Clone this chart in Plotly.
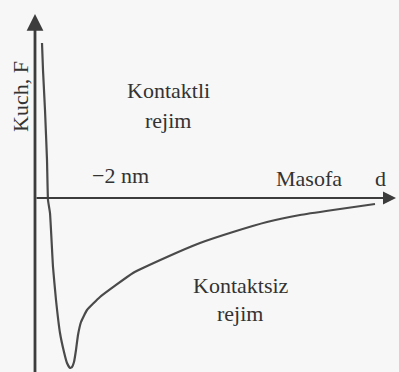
import plotly.graph_objects as go

# Force-distance curve (arbitrary units): distance d, force F
distance = [0.7, 0.8, 1.0, 1.2, 1.3, 1.5, 1.8, 2.1, 2.5, 2.9, 3.2, 3.5, 3.7, 3.9, 4.1, 4.3, 4.6, 5.2,
            6.5, 9.8, 13.2, 16.5, 19.8, 23.2, 26.5, 29.8, 34.0]
force = [15.7, 13.0, 9.0, 4.0, 0.0, -1.3, -6.7, -10.0, -13.3, -15.2, -16.3, -16.8, -16.7, -16.2,
         -15.0, -13.5, -12.2, -11.0, -9.7, -7.3, -5.7, -4.3, -3.2, -2.2, -1.5, -1.0, -0.4]

labels = ["Kuch, F", "Kontaktli", "rejim", "\u22122 nm", "Masofa", "d", "Kontaktsiz", "rejim"]
label_d = [-1.5, 13.3, 13.3, 8.5, 27.4, 34.5, 20.6, 20.5]
label_f = [10.3, 11.0, 8.0, 2.5, 2.2, 2.2, -8.5, -11.3]
label_angle = [-90, 0, 0, 0, 0, 0, 0, 0]

ink = "#3c3c3c"
font = dict(family="Times New Roman", size=22, color="#333333")

fig = go.Figure()
fig.add_trace(go.Scatter(x=distance, y=force, mode="lines",
                         line=dict(color="#4a4a4a", width=2.2, shape="spline", smoothing=0.35),
                         hoverinfo="skip", showlegend=False))

# axes as arrows
fig.add_annotation(x=0, y=18.6, ax=0, ay=-17.5, xref="x", yref="y", axref="x", ayref="y",
                   showarrow=True, arrowhead=2, arrowsize=1.2, arrowwidth=2.8, arrowcolor=ink, text="")
fig.add_annotation(x=36.1, y=0.2, ax=0, ay=0.2, xref="x", yref="y", axref="x", ayref="y",
                   showarrow=True, arrowhead=2, arrowsize=1.3, arrowwidth=2.0, arrowcolor=ink, text="")

for t, xd, yf, ang in zip(labels, label_d, label_f, label_angle):
    fig.add_annotation(x=xd, y=yf, text=t, textangle=ang, showarrow=False, font=font)

fig.update_layout(
    width=399, height=372,
    margin=dict(l=0, r=0, t=0, b=0),
    paper_bgcolor="#f7f7f7", plot_bgcolor="#f7f7f7",
    xaxis=dict(range=[-3.5, 36.4], visible=False, fixedrange=True),
    yaxis=dict(range=[-17.2, 20.0], visible=False, fixedrange=True),
)

fig.write_html("out.html", config={"displayModeBar": False},
               post_script="document.body.style.margin='0';document.body.style.background='#f7f7f7';")
